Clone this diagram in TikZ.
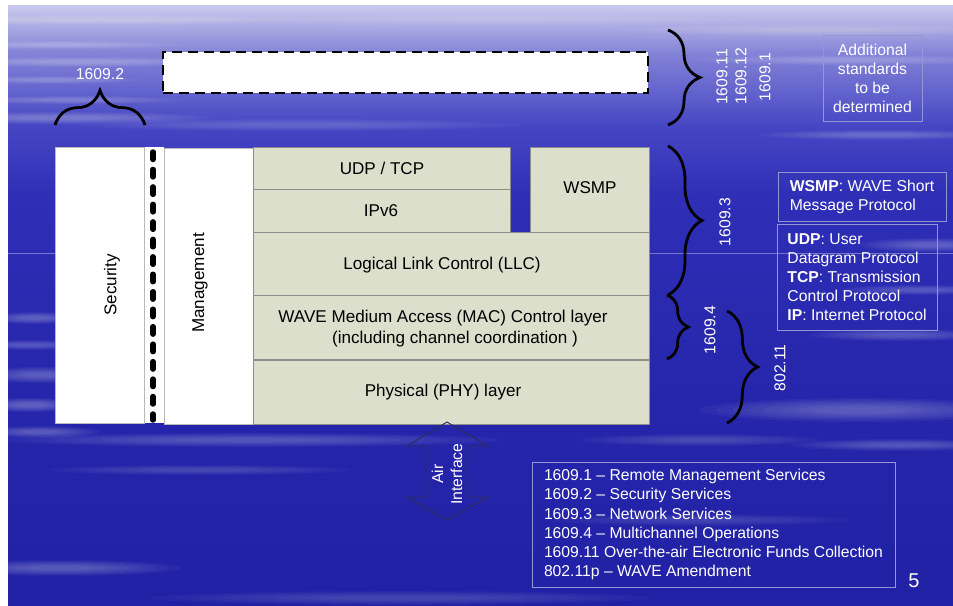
\documentclass[tikz,border=0pt]{standalone}
\usepackage{fontspec}
\setmainfont{Liberation Sans}
\usetikzlibrary{fit,decorations.pathreplacing}

% colours
\definecolor{layerfill}{RGB}{220,223,204}
\definecolor{layerline}{RGB}{140,140,140}
\definecolor{sideline}{RGB}{185,185,185}
\definecolor{frameline}{RGB}{150,150,215}
\definecolor{arrowline}{RGB}{45,45,90}
\definecolor{skyA}{RGB}{33,33,165}
\definecolor{skyB}{RGB}{38,38,172}
\definecolor{skyC}{RGB}{46,46,182}
\definecolor{skyD}{RGB}{70,70,196}
\definecolor{skyE}{RGB}{130,130,215}
\definecolor{skyF}{RGB}{200,200,236}

% sky behind the protocol stack
\pgfdeclareverticalshading{sky}{100bp}{color(0bp)=(skyA); color(25bp)=(skyA);
  color(42bp)=(skyB); color(59bp)=(skyC); color(65bp)=(skyD);
  color(71bp)=(skyE); color(75bp)=(skyF); color(100bp)=(skyF)}

\newcommand\whitesize{\fontsize{11.8}{14.3}\selectfont}
\newcommand\boxsize{\fontsize{12.8}{15.75}\selectfont}

% soft light streak: x, y, x radius, y radius, opacity per layer
\newcommand\haze[5]{%
  \foreach \k in {1,...,8}{%
    \fill[white, fill opacity=#5] (#1,#2) ellipse ({#3*(1.1-0.1*\k)} and {#4*(1.1-0.1*\k)});}}

\tikzset{
  layer/.style={draw=layerline, line width=0.6pt, fill=layerfill, inner sep=0pt},
  side/.style={draw=sideline, line width=0.6pt, fill=white, inner sep=0pt},
  boxtext/.style={font=\boxsize, text=black, inner sep=0pt, align=center},
  frame/.style={draw=frameline, line width=0.6pt, inner sep=0pt},
  wlabel/.style={text=white, font=\whitesize, inner sep=0pt},
  curly/.style={decorate, decoration={brace, amplitude=#1}, line width=2.1pt, draw=black},
}

\begin{document}
\begin{tikzpicture}[x=0.75pt, y=-0.75pt]
\useasboundingbox (0,0) rectangle (953,606);
\fill[white] (0,0) rectangle (953,606);
\shade[shading=sky] (8,6) rectangle (953,606);

% cloud streaks
\begin{scope}
  \clip (8,6) rectangle (953,606);
  \haze{100}{20}{200}{5}{0.03}
  \haze{60}{45}{120}{4}{0.03}
  \haze{80}{62}{140}{5}{0.035}
  \haze{50}{80}{90}{4}{0.03}
  \haze{70}{100}{110}{4}{0.03}
  \haze{60}{118}{150}{6}{0.035}
  \haze{300}{125}{220}{6}{0.025}
  \haze{500}{20}{250}{6}{0.025}
  \haze{820}{30}{200}{6}{0.03}
  \haze{850}{60}{150}{5}{0.03}
  \haze{880}{135}{120}{5}{0.03}
  \haze{930}{245}{70}{7}{0.035}
  \haze{920}{290}{80}{5}{0.03}
  \haze{900}{335}{90}{6}{0.03}
  \haze{860}{410}{160}{12}{0.035}
  \haze{900}{445}{110}{6}{0.03}
  \haze{700}{440}{120}{6}{0.025}
  \haze{35}{318}{50}{6}{0.035}
  \haze{30}{345}{60}{5}{0.03}
  \haze{40}{375}{60}{8}{0.035}
  \haze{30}{405}{50}{7}{0.04}
  \haze{40}{432}{60}{6}{0.035}
  \haze{250}{440}{250}{7}{0.03}
  \haze{200}{470}{150}{5}{0.025}
  \haze{60}{568}{120}{8}{0.035}
  \haze{400}{598}{250}{7}{0.025}
  \haze{700}{520}{150}{6}{0.02}
  \draw[white, opacity=0.35, line width=0.5pt] (8,253) -- (953,253);
\end{scope}

% standards still to come
\node[draw=black, line width=2.2pt, dash pattern=on 7.5pt off 4.5pt, fill=white,
  inner sep=0pt, fit={(163,52)(648,93)}] (future) {};

% security and management planes
\node[fill=white, inner sep=0pt, fit={(55,147)(164,423)}] (secpad) {};
\node[side, fit={(55,147)(144,423)}] (sec) {};
\node[boxtext, rotate=90] (sectext) at (112,285) {Security};
\coordinate (sepTop) at (153,152);
\coordinate (sepBot) at (153,420);
\draw[line width=4.1pt, line cap=round, dash pattern=on 5.6pt off 7.5pt] (sepTop) -- (sepBot);
\node[side, fit={(164,148)(253,424)}] (mgmt) {};
\node[boxtext, rotate=90] (mgmttext) at (200,283) {Management};

% protocol layers
\node[layer, fit={(253,147)(510,189)}] (udp) {};
\node[layer, fit={(253,189)(510,232)}] (ipv6) {};
\node[layer, fit={(530,147)(649,232)}] (wsmp) {};
\node[layer, fit={(253,232)(649,295)}] (llc) {};
\node[layer, fit={(253,295)(649,359)}] (mac) {};
\node[layer, fit={(253,360)(649,424)}] (phy) {};
\node[boxtext] (udpT) at (382,168) {UDP / TCP};
\node[boxtext] (ipv6T) at (381,211) {IPv6};
\node[boxtext] (wsmpT) at (590,188) {WSMP};
\node[boxtext] (llcT) at (442,265) {Logical Link Control (LLC)};
\node[boxtext] (macT1) at (443,318) {WAVE Medium Access (MAC) Control layer};
\node[boxtext] (macT2) at (455,339) {(including channel coordination )};
\node[boxtext] (phyT) at (443,392) {Physical (PHY) layer};

% braces and their standards
\coordinate (b2l) at (55,125);  \coordinate (b2r) at (145,125);
\draw[curly=26pt] (b2l) -- (b2r);
\node[wlabel] (l2) at (100,74) {1609.2};

\coordinate (btT) at (668,30);  \coordinate (btB) at (668,125);
\draw[curly=24pt] (btT) -- (btB);
\node[wlabel, rotate=90] (l11) at (722,77) {1609.11};
\node[wlabel, rotate=90] (l12) at (741,76) {1609.12};
\node[wlabel, rotate=90] (l1) at (765,77) {1609.1};

\coordinate (b3T) at (668,146); \coordinate (b3B) at (668,295);
\draw[curly=25.5pt] (b3T) -- (b3B);
\node[wlabel, rotate=90] (l3) at (725,222) {1609.3};

\coordinate (b4T) at (667,295); \coordinate (b4B) at (667,359);
\draw[curly=16pt] (b4T) -- (b4B);
\node[wlabel, rotate=90] (l4) at (710,330) {1609.4};

\coordinate (b8T) at (727,311); \coordinate (b8B) at (727,423);
\draw[curly=23pt] (b8T) -- (b8B);
\node[wlabel, rotate=90] (l8) at (780,368) {802.11};

% air interface
\draw[arrowline, line width=0.7pt] (447,422) -- (488,446) -- (467,446) -- (467,497)
  -- (488,497) -- (447,520) -- (407,497) -- (427,497) -- (427,446) -- (407,446) -- cycle;
\node[wlabel, rotate=90, align=center] (air) at (447,474) {Air\\Interface};

% notes
\node[frame, fit={(823,35)(922,121)}] (tbd) {};
\node[wlabel, align=center] (tbdT) at (tbd.center)
  {Additional\\standards\\to be\\determined};
\node[frame, fit={(778,172)(946,221)}] (wsmpnote) {};
\node[wlabel, align=left] (wsmpnoteT) at (wsmpnote.center)
  {\textbf{WSMP}: WAVE Short\\Message Protocol};
\node[frame, fit={(777,224)(937,330)}] (ipnote) {};
\node[wlabel, align=left] (ipnoteT) at (ipnote.center)
  {\textbf{UDP}: User\\Datagram Protocol\\\textbf{TCP}: Transmission\\Control Protocol\\\textbf{IP}: Internet Protocol};
\node[frame, fit={(532,462)(895,587)}] (legend) {};
\node[wlabel, align=left] (legendT) at (legend.center)
  {1609.1 – Remote Management Services\\
   1609.2 – Security Services\\
   1609.3 – Network Services\\
   1609.4 – Multichannel Operations\\
   1609.11 Over-the-air Electronic Funds Collection\\
   802.11p – WAVE Amendment};

\node[text=white, font=\fontsize{15}{18}\selectfont, inner sep=0pt] (page) at (914,581) {5};
\end{tikzpicture}
\end{document}
